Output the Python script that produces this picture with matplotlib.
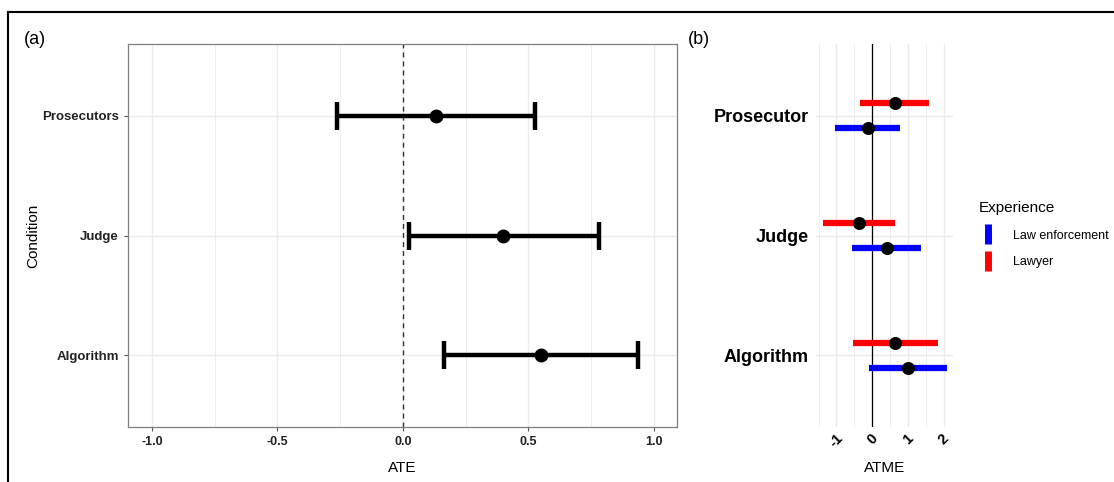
import numpy as np
import matplotlib
matplotlib.use("Agg")
import matplotlib.pyplot as plt
from matplotlib.lines import Line2D

plt.rcParams['font.family'] = ['Liberation Sans', 'DejaVu Sans']

# Panel (a): average treatment effect by condition
conditions_a = ['Algorithm', 'Judge', 'Prosecutors']
ate = [0.55, 0.40, 0.13]
ate_lo = [0.163, 0.024, -0.263]
ate_hi = [0.936, 0.78, 0.526]

# Panel (b): ATME by condition and experience
conditions_b = ['Algorithm', 'Judge', 'Prosecutor']
lawyer = [0.64, -0.36, 0.64]
lawyer_lo = [-0.55, -1.37, -0.33]
lawyer_hi = [1.82, 0.64, 1.58]
law_enf = [1.00, 0.42, -0.13]
law_enf_lo = [-0.10, -0.57, -1.03]
law_enf_hi = [2.09, 1.36, 0.77]

W, H = 1114, 482
fig = plt.figure(figsize=(W / 100, H / 100), dpi=100)

# outer frame (top and left only visible)
fig.add_artist(Line2D([8 / W, 1.0], [1 - 12 / H, 1 - 12 / H], color='black', lw=1.5))
fig.add_artist(Line2D([8 / W, 8 / W], [0, 1 - 12 / H], color='black', lw=1.5))

grid_c = '#ebebeb'

# ---------- panel (a) ----------
ax = fig.add_axes([128 / W, 55 / H, 549 / W, 383 / H])
ya = np.arange(1, len(conditions_a) + 1)
for v in np.arange(-1.0, 1.01, 0.5):
    ax.axvline(v, color=grid_c, lw=1.0, zorder=0)
for v in np.arange(-0.75, 1.0, 0.5):
    ax.axvline(v, color=grid_c, lw=0.6, zorder=0)
for y in ya:
    ax.axhline(y, color=grid_c, lw=1.0, zorder=0)
ax.axvline(0, color='#333333', lw=1.0, ls=(0, (3.5, 3)), zorder=1)
err = [np.array(ate) - np.array(ate_lo), np.array(ate_hi) - np.array(ate)]
ax.errorbar(ate, ya, xerr=err, fmt='o', color='black', ms=9, lw=3.2,
            capsize=10, capthick=3.2, zorder=3)
ax.set_xlim(-1.095, 1.092)
ax.set_ylim(0.4, 3.6)
ax.set_xticks(np.arange(-1.0, 1.01, 0.5))
ax.set_xticklabels(['-1.0', '-0.5', '0.0', '0.5', '1.0'], fontweight='bold', fontsize=9)
ax.set_yticks(ya)
ax.set_yticklabels(conditions_a, fontweight='bold', fontsize=9.5)
ax.tick_params(colors='#222222', length=3, color='#555555')
ax.set_xlabel('ATE', fontsize=11, labelpad=9)
ax.set_ylabel('Condition', fontsize=11, labelpad=1)
for s in ax.spines.values():
    s.set_color('#7f7f7f')
    s.set_linewidth(0.9)
fig.text(24 / W, 1 - 40 / H, '(a)', fontsize=13, va='center', ha='left')

# ---------- panel (b) ----------
bx = fig.add_axes([816 / W, 55 / H, 137 / W, 383 / H])
yb = np.arange(1, len(conditions_b) + 1)
off = 0.104
for v in [-1, 0, 1, 2]:
    bx.axvline(v, color=grid_c, lw=1.0, zorder=0)
for v in [-1.5, -0.5, 0.5, 1.5]:
    bx.axvline(v, color=grid_c, lw=0.6, zorder=0)
for y in yb:
    bx.axhline(y, color=grid_c, lw=1.0, zorder=0)
bx.axvline(0, color='black', lw=0.9, zorder=1)
bx.hlines(yb + off, lawyer_lo, lawyer_hi, color='red', lw=4.5, zorder=2)
bx.hlines(yb - off, law_enf_lo, law_enf_hi, color='blue', lw=4.5, zorder=2)
bx.scatter(lawyer, yb + off, s=70, color='black', zorder=3)
bx.scatter(law_enf, yb - off, s=70, color='black', zorder=3)
bx.set_xlim(-1.57, 2.25)
bx.set_ylim(0.4, 3.6)
bx.set_xticks([-1, 0, 1, 2])
bx.set_xticklabels(['-1', '0', '1', '2'], fontweight='bold', fontsize=10.5, rotation=45)
bx.set_yticks(yb)
bx.set_yticklabels(conditions_b, fontweight='bold', fontsize=13)
bx.tick_params(axis='x', length=0, pad=3)
bx.tick_params(axis='y', length=0, pad=5)
bx.set_xlabel('ATME', fontsize=11, labelpad=8)
for s in bx.spines.values():
    s.set_visible(False)
fig.text(688 / W, 1 - 40 / H, '(b)', fontsize=13, va='center', ha='left')

handles = [
    Line2D([], [], color='blue', marker='|', ls='None', ms=15, mew=5),
    Line2D([], [], color='red', marker='|', ls='None', ms=15, mew=5),
]
leg = fig.legend(handles, ['Law enforcement', 'Lawyer'], title='Experience',
                 loc='upper left', bbox_to_anchor=(968 / W, 1 - 190 / H),
                 frameon=False, fontsize=9, title_fontsize=11,
                 handlelength=1.4, handletextpad=1.3, labelspacing=1.15)
leg._legend_box.align = 'left'

fig.savefig('out.png', dpi=100)
